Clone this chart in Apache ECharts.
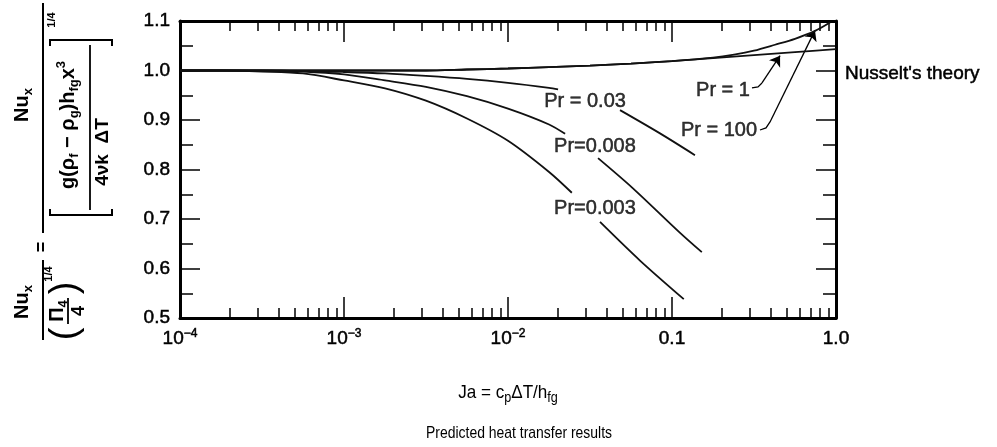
<!DOCTYPE html>
<html><head><meta charset="utf-8">
<script src="https://cdn.jsdelivr.net/npm/echarts@6/dist/echarts.min.js"></script>
<style>html,body{margin:0;padding:0;background:#fff}#c{width:997px;height:447px}</style>
</head><body><div id="c"></div><script>
// ---------- data ----------
const xMajorTicks = [1e-4, 1e-3, 1e-2, 0.1, 1];
const xTickLabels = [['10', '−4'], ['10', '−3'], ['10', '−2'], ['0.1', ''], ['1.0', '']];
const xMinorMultipliers = [2, 3, 4, 5, 6, 7, 8, 9];
const yTicks = [0.5, 0.6, 0.7, 0.8, 0.9, 1.0, 1.1];

// Pr = 0.003 (two segments, broken by its label)
const jaPr0003a = [1e-4, 1.78e-4, 3.16e-4, 5.62e-4, 1e-3, 1.78e-3, 3.16e-3, 5.62e-3, 0.01, 0.0178, 0.0245];
const nuPr0003a = [1.0, 1.0, 0.998, 0.994, 0.980, 0.964, 0.939, 0.903, 0.858, 0.795, 0.753];
const jaPr0003b = [0.0364, 0.0638, 0.118];
const nuPr0003b = [0.694, 0.616, 0.538];
// Pr = 0.008
const jaPr0008a = [1e-4, 3.16e-4, 5.62e-4, 1e-3, 1.78e-3, 3.16e-3, 5.62e-3, 0.01, 0.0178, 0.0223];
const nuPr0008a = [1.0, 1.0, 0.998, 0.992, 0.980, 0.967, 0.948, 0.923, 0.891, 0.872];
const jaPr0008b = [0.0354, 0.0578, 0.112, 0.152];
const nuPr0008b = [0.823, 0.762, 0.672, 0.633];
// Pr = 0.03
const jaPr003a = [1e-4, 5.62e-4, 1e-3, 1.78e-3, 3.16e-3, 5.62e-3, 0.01, 0.0178, 0.0202];
const nuPr003a = [1.0, 0.999, 0.997, 0.994, 0.989, 0.983, 0.975, 0.965, 0.962];
const jaPr003b = [0.0482, 0.0845, 0.138];
const nuPr003b = [0.920, 0.873, 0.829];
// Pr = 1
const jaPr1 = [1e-4, 1e-3, 3.16e-3, 5.62e-3, 0.01, 0.0178, 0.0316, 0.0562, 0.1, 0.178, 0.316, 0.562, 1.0];
const nuPr1 = [1.0, 1.0, 1.0, 1.002, 1.004, 1.007, 1.010, 1.014, 1.019, 1.025, 1.031, 1.037, 1.043];
// Pr = 100
const jaPr100 = [1e-4, 1e-3, 3.16e-3, 5.62e-3, 0.01, 0.0178, 0.0316, 0.0562, 0.1, 0.178, 0.239, 0.316, 0.425, 0.562, 0.745, 0.919];
const nuPr100 = [1.0, 1.0, 1.0, 1.002, 1.004, 1.007, 1.010, 1.014, 1.019, 1.026, 1.032, 1.040, 1.052, 1.064, 1.080, 1.097];

// curve labels (annotation anchors in data space)
const prLabelText = ['Pr = 0.03', 'Pr=0.008', 'Pr=0.003', 'Pr = 1', 'Pr = 100'];
const prLabelJa = [0.0295, 0.0339, 0.0339, 0.2047, 0.1935];
const prLabelNu = [0.938, 0.8475, 0.722, 0.9606, 0.878];

// leader lines: hook part + arrow part
const leaderPr1Hook = [[0.3074, 0.9647], [0.3345, 0.9667], [0.3538, 0.9748]];
const leaderPr1Arrow = [[0.3538, 0.9748], [0.456, 1.030]];
const leaderPr100Hook = [[0.344, 0.8798], [0.3743, 0.8839], [0.396, 0.896]];
const leaderPr100Arrow = [[0.396, 0.896], [0.7447, 1.081]];

// ---------- chart ----------
const FONT = "'Liberation Sans', Arial, sans-serif";
const HEAVY = { textBorderColor: '#000', textBorderWidth: 0.5 };
const xMinorTicks = [];
for (let d = 0; d < xMajorTicks.length - 1; d++) {
  xMinorMultipliers.forEach(m => xMinorTicks.push(m * xMajorTicks[d]));
}
const zip = (xs, ys) => xs.map((x, i) => [x, ys[i]]);
const curveStyle = { color: '#111', width: 1.8 };
function curve(name, xs, ys) {
  return { type: 'line', name, data: zip(xs, ys), symbol: 'none', showSymbol: false,
    smooth: 0.3, lineStyle: curveStyle, silent: true, z: 3, animation: false };
}
function xAx(pos, ticks, len, showLine, showLabel) {
  return {
    type: 'log', logBase: 10, min: 1e-4, max: 1, position: pos,
    axisLine: { show: showLine, onZero: false, lineStyle: { color: '#000', width: 3 } },
    axisTick: { show: true, inside: true, length: len, customValues: ticks, lineStyle: { color: '#000', width: 1.5 } },
    minorTick: { show: false }, splitLine: { show: false },
    axisLabel: showLabel ? {
      show: true, customValues: xMajorTicks, margin: 10,
      formatter: v => {
        const l = xTickLabels[Math.round(Math.log10(v)) + 4];
        return l[1] ? `{b|${l[0]}}{s|${l[1]}}` : `{b|${l[0]}}`;
      },
      rich: {
        b: Object.assign({ fontSize: 19, fontFamily: FONT, color: '#000', lineHeight: 22 }, HEAVY),
        s: Object.assign({ fontSize: 12, fontFamily: FONT, color: '#000', lineHeight: 10, verticalAlign: 'top' }, HEAVY)
      }
    } : { show: false }
  };
}
function yAx(pos, showLabel) {
  return {
    type: 'value', min: yTicks[0], max: yTicks[yTicks.length - 1], interval: 0.1, position: pos,
    axisLine: { show: true, onZero: false, lineStyle: { color: '#000', width: 3 } },
    axisTick: { show: true, inside: true, length: 20, lineStyle: { color: '#000', width: 1.5 } },
    minorTick: { show: true, splitNumber: 2, length: 13, lineStyle: { color: '#000', width: 1.5 } },
    splitLine: { show: false },
    axisLabel: showLabel ? Object.assign({ show: true, margin: 10, color: '#000', fontSize: 19, fontFamily: FONT,
      formatter: v => v.toFixed(1) }, HEAVY) : { show: false }
  };
}

const series = [
  curve('Pr = 0.003 a', jaPr0003a, nuPr0003a),
  curve('Pr = 0.003 b', jaPr0003b, nuPr0003b),
  curve('Pr = 0.008 a', jaPr0008a, nuPr0008a),
  curve('Pr = 0.008 b', jaPr0008b, nuPr0008b),
  curve('Pr = 0.03 a', jaPr003a, nuPr003a),
  curve('Pr = 0.03 b', jaPr003b, nuPr003b),
  curve('Pr = 1', jaPr1, nuPr1),
  curve('Pr = 100', jaPr100, nuPr100),
  {
    type: 'scatter', name: 'labels', symbolSize: 1, itemStyle: { color: 'rgba(0,0,0,0)' },
    data: prLabelText.map((t, i) => ({ name: t, value: [prLabelJa[i], prLabelNu[i]] })),
    label: Object.assign({ show: true, position: 'inside', formatter: p => p.name, color: '#000',
      fontSize: 20, fontFamily: FONT }, HEAVY), silent: true, z: 5, animation: false
  },
  {
    type: 'lines', coordinateSystem: 'cartesian2d', polyline: true, silent: true, animation: false,
    lineStyle: { color: '#000', width: 1.3, opacity: 1 },
    data: [{ coords: leaderPr1Hook }, { coords: leaderPr100Hook }]
  },
  {
    type: 'lines', coordinateSystem: 'cartesian2d', silent: true, animation: false,
    symbol: ['none', 'arrow'], symbolSize: 10,
    lineStyle: { color: '#000', width: 1.3, opacity: 1 },
    data: [{ coords: leaderPr1Arrow }, { coords: leaderPr100Arrow }]
  }
];

// y-axis formula (rotated group, local x = 340 - screenY, local y = screenX)
const fb = (t, u, v, size, extra) => Object.assign({ type: 'text', x: u, y: v,
  style: Object.assign({ text: t, fontSize: size, fontWeight: 'bold', fontFamily: FONT, fill: '#000',
    align: 'center', verticalAlign: 'middle', textAlign: 'center', textVerticalAlign: 'middle' }, extra || {}) });
const ln = (u1, v1, u2, v2, w) => ({ type: 'line', shape: { x1: u1, y1: v1, x2: u2, y2: v2 },
  style: { stroke: '#000', lineWidth: w || 2 } });
const pl = (pts, w) => ({ type: 'polyline', shape: { points: pts }, style: { stroke: '#000', fill: null, lineWidth: w || 2 } });
const rich = {
  a: { fontSize: 20, fontWeight: 'bold', fontFamily: FONT, lineHeight: 26 },
  n: { fontSize: 20, fontWeight: 'bold', fontFamily: FONT, lineHeight: 26 },
  b: { fontSize: 13, fontWeight: 'bold', fontFamily: FONT, lineHeight: 12, verticalAlign: 'bottom' },
  c: { fontSize: 13, fontWeight: 'bold', fontFamily: FONT, lineHeight: 12, verticalAlign: 'top' }
};
const formula = {
  type: 'group', rotation: Math.PI / 2, x: 0, y: 340, silent: true,
  children: [
    fb('{n|Nu}{b|x}', 38, 22, 20, { rich }),
    ln(0, 43, 80, 43, 2),
    fb('(', 6, 66, 38, { fontWeight: 'normal' }),
    fb('{a|Π}{b|4}', 29, 57, 20, { rich }),
    ln(16, 68, 42, 68, 1.8),
    fb('4', 29, 79, 18),
    fb(')', 52, 66, 38, { fontWeight: 'normal' }),
    fb('1/4', 66, 49, 11),
    fb('=', 93, 42, 18),
    fb('{n|Nu}{b|x}', 235, 22, 20, { rich }),
    ln(107, 43, 337, 43, 2),
    pl([[131, 50], [125, 50], [125, 112], [131, 112]], 2),
    pl([[294, 50], [300, 50], [300, 112], [294, 112]], 2),
    fb('1/4', 320, 52, 11),
    fb('{a|g(ρ}{b|f}{a| − ρ}{b|g}{a|)h}{b|fg}{a|x}{c|3}', 215, 68, 20, { rich }),
    ln(130, 90, 295, 90, 1.8),
    fb('4νk  ΔT', 188, 103, 19)
  ]
};

const option = {
  animation: false,
  backgroundColor: '#fff',
  grid: { left: 180, right: 161, top: 21, bottom: 129, containLabel: false },
  xAxis: [
    xAx('bottom', xMajorTicks, 21, true, true),
    xAx('bottom', xMinorTicks, 10, false, false),
    xAx('top', xMajorTicks, 21, true, false),
    xAx('top', xMinorTicks, 10, false, false)
  ],
  yAxis: [yAx('left', true), yAx('right', false)],
  series,
  graphic: [
    formula,
    { type: 'text', x: 845, y: 74, style: Object.assign({ text: "Nusselt's theory", fontSize: 19, fontFamily: FONT, fill: '#000',
      align: 'left', verticalAlign: 'middle', textAlign: 'left', textVerticalAlign: 'middle' }, { stroke: '#000', lineWidth: 0.5 }) },
    { type: 'text', x: 508, y: 393, scaleX: 0.9, style: { text: '{n|Ja = c}{b|p}{n|ΔT/h}{b|fg}', fill: '#000',
      align: 'center', verticalAlign: 'middle', textAlign: 'center', textVerticalAlign: 'middle',
      rich: { n: { fontSize: 19, fontFamily: FONT, lineHeight: 24 },
              b: { fontSize: 14, fontFamily: FONT, lineHeight: 12, verticalAlign: 'bottom' } } } },
    { type: 'text', x: 519, y: 433, scaleX: 0.82, style: { text: 'Predicted heat transfer results', fontSize: 17, fontFamily: FONT,
      fill: '#000', align: 'center', verticalAlign: 'middle', textAlign: 'center', textVerticalAlign: 'middle' } }
  ]
};
const chart = echarts.init(document.getElementById('c'), null, { renderer: 'canvas' });
chart.setOption(option);
</script></body></html>
